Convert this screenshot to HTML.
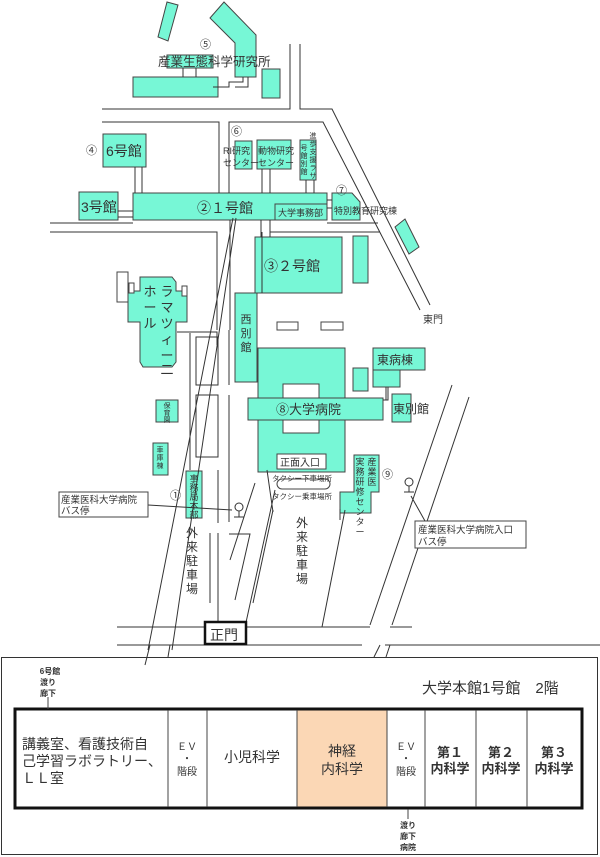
<!DOCTYPE html>
<html><head><meta charset="utf-8"><style>
body{margin:0;background:#fff;width:600px;height:857px;overflow:hidden;font-family:"Liberation Sans","Noto Sans CJK JP",sans-serif}
svg{position:absolute;left:0;top:0}
text{font-family:"Liberation Sans","Noto Sans CJK JP",sans-serif;fill:#333}
</style></head><body>
<svg width="600" height="857" viewBox="0 0 600 857">
<g fill="#77f7d6" stroke="#444" stroke-width="1">
<polygon points="167,2 178,5 168,41 158,37"/>
<polygon points="224,2 256,35 256,77 235,77 235,43 210,18"/>
<rect x="133" y="77" width="85" height="20"/>
<rect x="167" y="55" width="46" height="13"/>
<rect x="262" y="69" width="18" height="29"/>
<rect x="103" y="134" width="43" height="33"/>
<rect x="79" y="192" width="39" height="28"/>
<rect x="133" y="193" width="194" height="27"/>
<rect x="275" y="204" width="52" height="16"/>
<rect x="235" y="141" width="17" height="28"/>
<rect x="257" y="140" width="34" height="29"/>
<rect x="300" y="140" width="16" height="40"/>
<polygon points="332,193 352,193 360,202 360,220 332,220"/>
<polygon points="395,227 405,219 419,247 409,254"/>
<rect x="255" y="237" width="87" height="56"/>
<rect x="353" y="236" width="15" height="47"/>
<polygon points="140,277 172,277 176,282 176,291 187,291 187,322 176,322 176,362 172,367 143,367 140,362 140,322 128,322 128,291 140,291"/>
<rect x="235" y="293" width="22" height="89"/>
<rect x="258" y="348" width="87" height="124"/>
<rect x="248" y="398" width="135" height="22"/>
<rect x="373" y="348" width="52" height="22"/>
<rect x="373" y="370" width="27" height="17"/>
<rect x="353" y="368" width="15" height="23"/>
<rect x="392" y="394" width="19" height="28"/>
<rect x="156" y="400" width="22" height="22"/>
<rect x="153" y="443" width="15" height="32"/>
<rect x="186" y="471" width="16" height="47"/>
<polygon points="354,455 379,455 379,492 371,492 371,513 340,513 340,492 354,492"/>
</g>
<g fill="#fff" stroke="#444">
<rect x="283" y="384" width="36" height="14"/>
<rect x="283" y="420" width="36" height="13"/>
<rect x="277" y="322" width="21" height="8"/>
<rect x="321" y="322" width="22" height="8"/>
<rect x="277" y="454" width="49" height="15"/>
<rect x="277" y="479" width="53" height="10" rx="5"/>
<rect x="117" y="272" width="11" height="30"/>
<rect x="129" y="283" width="5" height="10"/>
<rect x="182" y="286" width="5" height="10"/>
</g>
<g fill="none" stroke="#333" stroke-width="1">
<!-- connectors -->
<path d="M183,68V77M196,68V77M213,87H229V82H243V77M235,87H248V77"/>
<path d="M135,167V193M142,167V193M118,211H133M118,217H133"/>
<path d="M262,169V193M270,169V193M306,180V193M314,180V193M327,200H332M327,208H332"/>
<path d="M261,220V237M270,220V237"/>
<path d="M383,400H388V387M386,400V387"/>
<!-- roads -->
<path d="M102,109H290V44M300,44V109H332L430,305"/>
<path d="M102,122H219V193M229,193V122H323L420,310"/>
<path d="M50,223H133M327,223H378M50,232H217V330M270,232H380M230,220V330M262,232V293"/>
<path d="M233,218L148,650M236,218L172,650"/>
<path d="M190,333V470M196,337H218V385H196ZM196,395H218V457H196Z"/>
<path d="M177,332H217V345"/>
<path d="M229,330V385M229,395V522M229,534H250L235,600"/>
<path d="M218,470V523M210,533V603M218,533V627"/>
<path d="M255,483L230,560M273,510L253,603"/>
<path d="M275,490L245,627M273,512L267,470"/>
<path d="M340,509V520M452,385L370,625M469,397L392,625M345,510L322,627"/>
<path d="M117,627H370M117,645H362M390,627H412M385,645H600"/>
<path d="M150,645L145,665M170,645L168,657M380,645L374,657M390,645L386,657"/>
<!-- bus stops -->
<path d="M148,505L232,510"/>
<circle cx="239" cy="507" r="4"/><path d="M239,511V517M234,517H244"/>
<circle cx="409" cy="482" r="4"/><path d="M409,486V492M404,492H414M411,496L425,521"/>
</g>
<rect x="59" y="492" width="89" height="25" fill="#fff" stroke="#444"/>
<rect x="415" y="521" width="111" height="27" fill="#fff" stroke="#444"/>
<rect x="205" y="622" width="41" height="22" fill="#fff" stroke="#111" stroke-width="2.5"/>
<g font-size="12">
<text x="158" y="66" font-size="12.5">産業生態科学研究所</text>
<text x="106" y="156" font-size="14">6号館</text>
<text x="81" y="212" font-size="14">3号館</text>
<text x="197" y="213" font-size="14">②１号館</text>
<text x="278" y="216" font-size="9">大学事務部</text>
<text x="334" y="214" font-size="9">特別教育研究棟</text>
<text x="223" y="154" font-size="9">RI研究</text>
<text x="223" y="166" font-size="9">センター</text>
<text x="258" y="154" font-size="9">動物研究</text>
<text x="258" y="166" font-size="9">センター</text>
<text x="264" y="271" font-size="14">③２号館</text>
<text x="423" y="323" font-size="10">東門</text>
<text x="276" y="414" font-size="13">⑧大学病院</text>
<text x="377" y="364" font-size="12">東病棟</text>
<text x="393" y="413" font-size="12">東別館</text>
<text x="280" y="466" font-size="10">正面入口</text>
<text x="272" y="481" font-size="7.5">タクシー下車場所</text>
<text x="272" y="499" font-size="7.5">タクシー乗車場所</text>
<text x="61" y="503" font-size="9.5">産業医科大学病院</text>
<text x="61" y="514" font-size="9.5">バス停</text>
<text x="418" y="533" font-size="9.5">産業医科大学病院入口</text>
<text x="418" y="545" font-size="9.5">バス停</text>
<text x="210" y="640" font-size="14">正門</text>
<text x="200" y="48" font-size="11">⑤</text>
<text x="86" y="154" font-size="11">④</text>
<text x="231" y="135" font-size="11">⑥</text>
<text x="336" y="194" font-size="11">⑦</text>
<text x="382" y="478" font-size="11">⑨</text>
<text x="170" y="499" font-size="11">①</text>
</g>
<g font-size="12" text-anchor="middle">
<text x="161" y="296" font-size="13"><tspan x="167" y="296">ラ</tspan><tspan x="167" y="312">マ</tspan><tspan x="167" y="328">ツ</tspan><tspan x="167" y="344">ィ</tspan><tspan x="167" y="360">ー</tspan><tspan x="167" y="374">二</tspan></text>
<text font-size="13"><tspan x="150" y="296">ホ</tspan><tspan x="150" y="312">ー</tspan><tspan x="150" y="328">ル</tspan></text>
<text font-size="11"><tspan x="246" y="323">西</tspan><tspan x="246" y="337">別</tspan><tspan x="246" y="351">館</tspan></text>
<text font-size="7"><tspan x="167" y="408">保</tspan><tspan x="167" y="415">育</tspan><tspan x="167" y="422">園</tspan></text>
<text font-size="7"><tspan x="160" y="452">車</tspan><tspan x="160" y="460">庫</tspan><tspan x="160" y="468">棟</tspan></text>
<text font-size="9"><tspan x="194" y="482">事</tspan><tspan x="194" y="491">務</tspan><tspan x="194" y="500">局</tspan><tspan x="194" y="509">本</tspan><tspan x="194" y="518">部</tspan></text>
<text font-size="12"><tspan x="192" y="537">外</tspan><tspan x="192" y="551">来</tspan><tspan x="192" y="565">駐</tspan><tspan x="192" y="579">車</tspan><tspan x="192" y="593">場</tspan></text>
<text font-size="12"><tspan x="302" y="527">外</tspan><tspan x="302" y="541">来</tspan><tspan x="302" y="555">駐</tspan><tspan x="302" y="569">車</tspan><tspan x="302" y="583">場</tspan></text>
<text font-size="9"><tspan x="372" y="465">産</tspan><tspan x="372" y="475">業</tspan><tspan x="372" y="485">医</tspan></text>
<text font-size="9"><tspan x="360" y="465">実</tspan><tspan x="360" y="475">務</tspan><tspan x="360" y="485">研</tspan><tspan x="360" y="495">修</tspan><tspan x="360" y="505">セ</tspan><tspan x="360" y="515">ン</tspan><tspan x="360" y="525">タ</tspan><tspan x="360" y="535">ー</tspan></text>
<text font-size="7"><tspan x="304" y="150">号</tspan><tspan x="304" y="158">館</tspan><tspan x="304" y="166">別</tspan><tspan x="304" y="174">館</tspan></text>
<text font-size="7"><tspan x="313" y="138">進</tspan><tspan x="313" y="146">歩</tspan><tspan x="313" y="154">支</tspan><tspan x="313" y="162">援</tspan><tspan x="313" y="170">ラ</tspan><tspan x="313" y="178">サ</tspan></text>
</g>
<!-- bottom panel -->
<rect x="1.5" y="657.5" width="596" height="197" fill="none" stroke="#333"/>
<rect x="15" y="709" width="567" height="99" fill="#fff" stroke="#111" stroke-width="3"/>
<rect x="297" y="710.5" width="90" height="96" fill="#fbd7b5"/>
<path d="M168,710V807M207,710V807M297,710V807M387,710V807M425,710V807M476,710V807M527,710V807" stroke="#444" fill="none"/>
<path d="M48,709V697M408,809V819" stroke="#444"/>
<g font-size="14">
<text x="422" y="693" font-size="15">大学本館1号館　2階</text>
<text x="22" y="749">講義室、看護技術自</text>
<text x="22" y="766">己学習ラボラトリー、</text>
<text x="22" y="783">ＬＬ室</text>
<text x="224" y="762">小児科学</text>
</g>
<g text-anchor="middle" font-size="10">
<text x="187" y="750">ＥＶ</text><text x="187" y="762">・</text><text x="187" y="775">階段</text>
<text x="406" y="750">ＥＶ</text><text x="406" y="762">・</text><text x="406" y="775">階段</text>
<text x="342" y="756" font-size="14">神経</text><text x="342" y="774" font-size="14">内科学</text>
<text x="450" y="757" font-size="13" font-weight="bold">第１</text><text x="450" y="773" font-size="13" font-weight="bold">内科学</text>
<text x="501" y="757" font-size="13" font-weight="bold">第２</text><text x="501" y="773" font-size="13" font-weight="bold">内科学</text>
<text x="554" y="757" font-size="13" font-weight="bold">第３</text><text x="554" y="773" font-size="13" font-weight="bold">内科学</text>
<g font-size="8" font-weight="bold">
<text x="50" y="674">6号館</text><text x="48" y="685">渡り</text><text x="48" y="696">廊下</text>
<text x="408" y="828">渡り</text><text x="408" y="839">廊下</text><text x="408" y="850">病院</text>
</g>
</g>
</svg>
</body></html>
